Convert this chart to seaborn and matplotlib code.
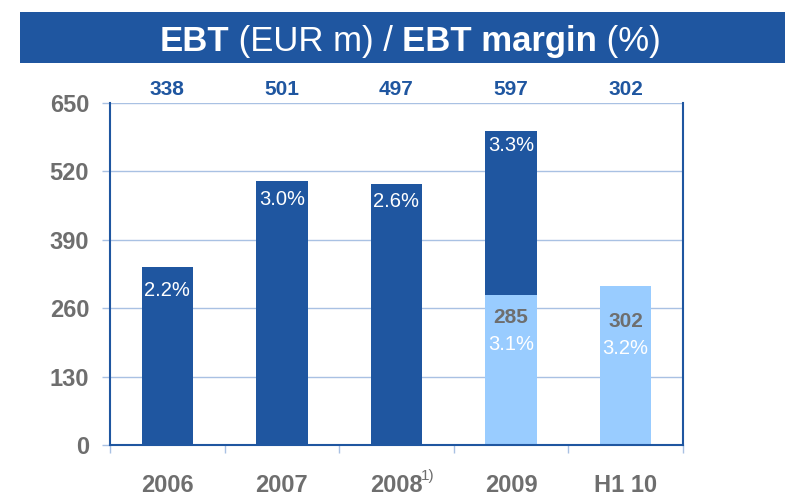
import matplotlib
matplotlib.use("Agg")
import matplotlib.pyplot as plt
import matplotlib.transforms as mtransforms
from matplotlib.patches import Rectangle
import seaborn as sns
import pandas as pd

categories = ["2006", "2007", "2008", "2009", "H1 10"]
total_ebt = [338, 501, 497, 597, 302]
light_ebt = [0, 0, 0, 285, 302]
dark_margin = ["2.2%", "3.0%", "2.6%", "3.3%", None]
light_margin = [None, None, None, "3.1%", "3.2%"]
yticks = [0, 130, 260, 390, 520, 650]

DARK = "#1F56A0"
LIGHT = "#99CCFF"
GRID = "#A9C1E3"
GRAY = "#6E6E6E"

sns.set_theme(style="white")
plt.rcParams["font.family"] = ["Liberation Sans", "DejaVu Sans"]

fig = plt.figure(figsize=(7.85, 4.98), dpi=100)
fig.patch.set_facecolor("white")
ax = fig.add_axes([110/785, 1-445/498, (683-110)/785, (445-103)/498])

df = pd.DataFrame({"cat": categories, "total": total_ebt, "light": light_ebt})
dark_colors = [DARK if l == 0 or l < t else LIGHT for t, l in zip(total_ebt, light_ebt)]
sns.barplot(data=df, x="cat", y="total", hue="cat", palette=dark_colors, legend=False,
            width=0.45, ax=ax, saturation=1, zorder=3, linewidth=0)
sns.barplot(data=df, x="cat", y="light", color=LIGHT, width=0.45, ax=ax,
            saturation=1, zorder=4, linewidth=0)

ax.set_xlim(-0.5, 4.5)
ax.set_ylim(0, 650)
ax.set_xlabel("")
ax.set_ylabel("")
ax.set_yticks(yticks)
ax.set_yticklabels([str(v) for v in yticks])
ax.yaxis.grid(True, color=GRID, lw=1.0, zorder=0)
ax.tick_params(axis="y", length=6, width=1.0, color=GRID, pad=9,
               labelsize=17, labelcolor=GRAY, left=True)
for t in ax.get_yticklabels():
    t.set_fontweight("bold")

ax.set_xticks(range(len(categories)))
ax.set_xticklabels(categories)
ax.tick_params(axis="x", length=0, pad=21, labelsize=17, labelcolor=GRAY)
for t in ax.get_xticklabels():
    t.set_fontweight("bold")
ax.set_xticks([i - 0.5 for i in range(len(categories) + 1)], minor=True)
ax.tick_params(axis="x", which="minor", length=6, width=1.0, color=GRID,
               direction="out", bottom=True)

for side in ["left", "right", "bottom"]:
    ax.spines[side].set_visible(True)
    ax.spines[side].set_color(DARK)
    ax.spines[side].set_linewidth(1.5)
    ax.spines[side].set_zorder(5)
ax.spines["top"].set_visible(False)

# footnote marker on 2008
trans_x = mtransforms.blended_transform_factory(ax.transData, ax.transAxes)
ax.text(2 + 0.21, -0.09, "1)", transform=trans_x, fontsize=11, color=GRAY,
        ha="left", va="center")

# top value labels
for i, v in enumerate(total_ebt):
    ax.text(i, 1.04, str(v), transform=trans_x, ha="center", va="center",
            fontsize=15, fontweight="bold", color=DARK)

# margin labels inside dark bars
pct_off = [-23, -18, -18, -15, 0]
for i, (v, lab) in enumerate(zip(total_ebt, dark_margin)):
    if lab:
        ax.annotate(lab, (i, v), xytext=(0, pct_off[i] * 0.72), textcoords="offset points",
                    ha="center", va="center", fontsize=14.5, color="white", zorder=6)

val_off = [0, 0, 0, -22, -35]
lpct_off = [0, 0, 0, -49, -62]
for i, (v, lab) in enumerate(zip(light_ebt, light_margin)):
    if lab:
        ax.annotate(str(v), (i, v), xytext=(0, val_off[i] * 0.72), textcoords="offset points",
                    ha="center", va="center", fontsize=15, fontweight="bold",
                    color=GRAY, zorder=6)
        ax.annotate(lab, (i, v), xytext=(0, lpct_off[i] * 0.72), textcoords="offset points",
                    ha="center", va="center", fontsize=14.5, color="white", zorder=6)

# title banner
fig.patches.append(Rectangle((20/785, 1-63/498), 1-20/785, 51/498,
                             transform=fig.transFigure, facecolor=DARK,
                             edgecolor="none", zorder=0))
parts = [("EBT", "bold"), (" (EUR m) / ", "normal"), ("EBT margin", "bold"), (" (%)", "normal")]
renderer = fig.canvas.get_renderer()
texts = []
x = 0.0
yc = 1 - 38/498
for s, w in parts:
    t = fig.text(x, yc, s, fontsize=25, fontweight=w, color="white",
                 ha="left", va="center_baseline")
    bb = t.get_window_extent(renderer)
    texts.append((t, bb.width))
    x += bb.width / fig.bbox.width
total_w = x
start = (410 / 785) - total_w / 2
x = start
for t, wpx in texts:
    t.set_x(x)
    x += wpx / fig.bbox.width

fig.savefig("out.png", dpi=100, facecolor="white")
